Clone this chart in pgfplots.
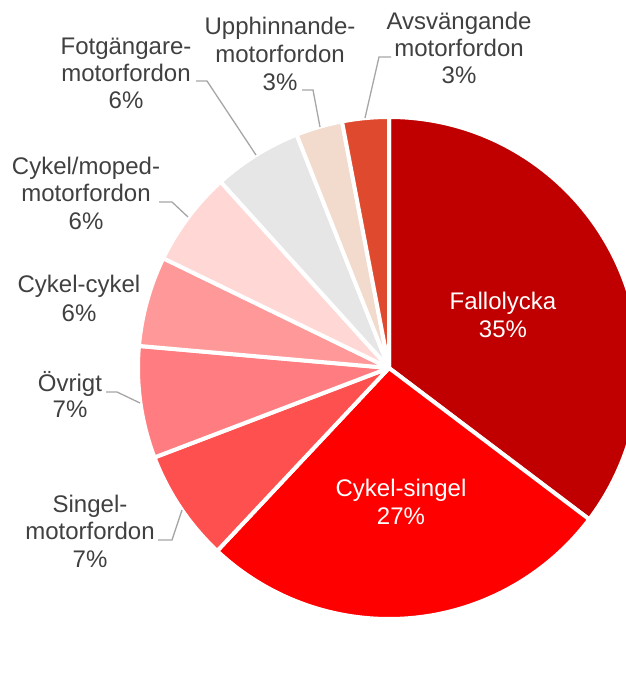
\documentclass[border=0pt]{standalone}
\usepackage{pgfplots}
\pgfplotsset{compat=1.18}
\usepackage{fontspec}
\setmainfont{Liberation Sans}

\definecolor{txt}{HTML}{404040}
\definecolor{lead}{HTML}{A6A6A6}
\definecolor{cA}{HTML}{C00000}
\definecolor{cB}{HTML}{FF0000}
\definecolor{cC}{HTML}{FF5050}
\definecolor{cD}{HTML}{FF7C80}
\definecolor{cE}{HTML}{FF9999}
\definecolor{cF}{HTML}{FFD7D5}
\definecolor{cG}{HTML}{E7E6E6}
\definecolor{cH}{HTML}{F2DBCC}
\definecolor{cI}{HTML}{DF4A2E}

\tikzset{lbl/.style={anchor=base, inner sep=0pt, text=txt, font=\fontsize{24bp}{28bp}\selectfont},
         ldr/.style={draw=lead, line width=1.3bp}}

\begin{document}
\begin{tikzpicture}
\begin{axis}[
    width=626bp, height=675bp, scale only axis,
    xmin=0, xmax=626, ymin=0, ymax=675,
    hide axis, clip=true,
]
\addplot[draw=none] coordinates {(0,0) (626,675)};

% slices, clockwise from 12 o'clock (share in %)
\xdef\curang{90}
\foreach \v/\c in {35.3/cA, 26.7/cB, 7.2/cC, 7.2/cD, 5.8/cE, 6.1/cF, 5.7/cG, 3.0/cH, 3.0/cI}{
  \pgfmathsetmacro\endang{\curang-3.6*\v}
  \edef\tmp{\noexpand\fill[\c, draw=white, line width=4bp, line join=round]
    (axis cs:389,307) -- ++(\curang:251bp) arc[start angle=\curang, end angle=\endang, radius=251bp] -- cycle;}
  \tmp
  \xdef\curang{\endang}
}

% inside labels
\node[lbl, text=white] at (axis cs:503,365) {Fallolycka};
\node[lbl, text=white] at (axis cs:503,337) {35\%};
\node[lbl, text=white] at (axis cs:401,178) {Cykel-singel};
\node[lbl, text=white] at (axis cs:401,150) {27\%};

% outside labels
\node[lbl] at (axis cs:90,162) {Singel-};
\node[lbl] at (axis cs:90,135) {motorfordon};
\node[lbl] at (axis cs:90,107) {7\%};
\node[lbl] at (axis cs:70,283) {Övrigt};
\node[lbl] at (axis cs:70,257) {7\%};
\node[lbl] at (axis cs:79,382) {Cykel-cykel};
\node[lbl] at (axis cs:79,353) {6\%};
\node[lbl] at (axis cs:86,500) {Cykel/moped-};
\node[lbl] at (axis cs:86,473) {motorfordon};
\node[lbl] at (axis cs:86,445) {6\%};
\node[lbl] at (axis cs:126,620) {Fotgängare-};
\node[lbl] at (axis cs:126,593) {motorfordon};
\node[lbl] at (axis cs:126,566) {6\%};
\node[lbl] at (axis cs:280,640) {Upphinnande-};
\node[lbl] at (axis cs:280,612) {motorfordon};
\node[lbl] at (axis cs:280,584) {3\%};
\node[lbl] at (axis cs:459,645) {Avsvängande};
\node[lbl] at (axis cs:459,618) {motorfordon};
\node[lbl] at (axis cs:459,591) {3\%};

% leader lines
\draw[ldr] (axis cs:196,594) -- (axis cs:207,594) -- (axis cs:256,520);
\draw[ldr] (axis cs:302,585) -- (axis cs:313,585) -- (axis cs:320,548);
\draw[ldr] (axis cs:391,618) -- (axis cs:379,618) -- (axis cs:365,557);
\draw[ldr] (axis cs:159,473) -- (axis cs:172,473) -- (axis cs:188,458);
\draw[ldr] (axis cs:106,283) -- (axis cs:117,283) -- (axis cs:140,272);
\draw[ldr] (axis cs:158,135) -- (axis cs:172,135) -- (axis cs:182,165);
\end{axis}
\end{tikzpicture}
\end{document}
